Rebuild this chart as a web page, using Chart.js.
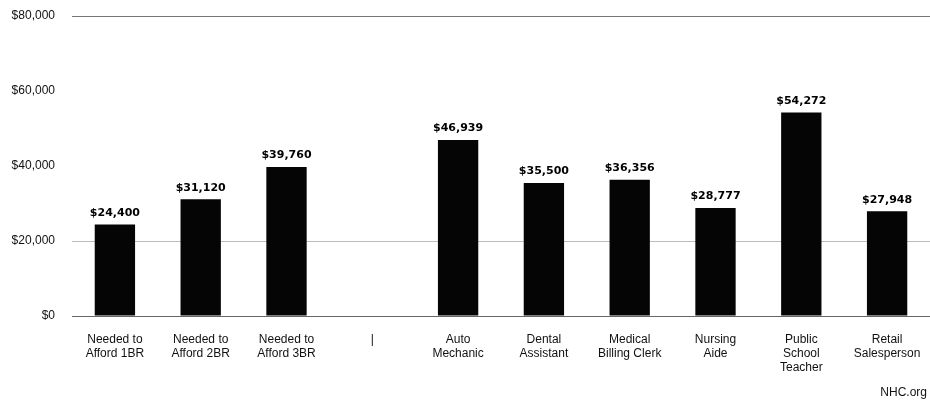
<!DOCTYPE html>
<html>
<head>
<meta charset="utf-8">
<script src="https://cdn.jsdelivr.net/npm/chart.js@4"></script>
<style>
  body { margin: 0; background: #fff; }
  #wrap { position: relative; width: 930px; height: 400px; }
  #credit {
    position: absolute; right: 3px; top: 385px;
    font: 12px "Liberation Sans", Arial, sans-serif; color: #111;
  }
</style>
</head>
<body>
<div id="wrap">
  <canvas id="myChart" width="930" height="400"></canvas>
  <div id="credit">NHC.org</div>
</div>
<script>
// categories (multi-line labels)
var categories = [
    ["Needed to", "Afford 1BR"],
    ["Needed to", "Afford 2BR"],
    ["Needed to", "Afford 3BR"],
    "|",
    ["Auto", "Mechanic"],
    ["Dental", "Assistant"],
    ["Medical", "Billing Clerk"],
    ["Nursing", "Aide"],
    ["Public", "School", "Teacher"],
    ["Retail", "Salesperson"],
];
var salaries = [24400, 31120, 39760, null, 46939, 35500, 36356, 28777, 54272, 27948];
var yTicks = [0, 20000, 40000, 60000, 80000];

function money(v) {
    return "$" + v.toLocaleString("en-US");
}

// value labels above bars
const valueLabels = {
    id: "valueLabels",
    afterDatasetsDraw(chart) {
        const ctx = chart.ctx;
        const meta = chart.getDatasetMeta(0);
        ctx.save();
        ctx.font = "bold 11px 'DejaVu Sans', sans-serif";
        ctx.fillStyle = "#000";
        ctx.textAlign = "center";
        ctx.textBaseline = "bottom";
        meta.data.forEach(function (bar, i) {
            const v = salaries[i];
            if (v == null) return;
            ctx.fillText(money(v), bar.x, bar.y - 6);
        });
        ctx.restore();
    },
};

new Chart(document.getElementById("myChart"), {
    type: "bar",
    data: {
        labels: categories,
        datasets: [
            {
                data: salaries,
                backgroundColor: "#050505",
                borderWidth: 0,
                barPercentage: 0.47,
                categoryPercentage: 1,
            },
        ],
    },
    options: {
        responsive: false,
        animation: false,
        layout: { padding: { top: 16, right: 0, left: 0, bottom: 0 } },
        plugins: { legend: { display: false }, tooltip: { enabled: false } },
        scales: {
            x: {
                grid: { display: false },
                border: { display: false },
                ticks: {
                    color: "#111",
                    font: { family: "'Liberation Sans', Arial, sans-serif", size: 12 },
                    maxRotation: 0,
                    autoSkip: false,
                    padding: 8,
                },
                afterFit: function (scale) {
                    scale.height = 84;
                },
            },
            y: {
                min: 0,
                max: 80000,
                afterBuildTicks: function (scale) {
                    scale.ticks = yTicks.map(function (v) { return { value: v }; });
                },
                grid: {
                    drawTicks: false,
                    color: function (c) {
                        if (c.tick == null) return "rgba(0,0,0,0)";
                        if (c.tick.value === 0) return "#666";
                        if (c.tick.value === 80000) return "#777";
                        if (c.tick.value === 20000) return "#bbb";
                        return "rgba(0,0,0,0)";
                    },
                },
                border: { display: false },
                ticks: {
                    color: "#111",
                    padding: 17,
                    font: { family: "'Liberation Sans', Arial, sans-serif", size: 12 },
                    callback: function (v) { return money(v); },
                },
                afterFit: function (scale) {
                    scale.width = 72;
                    scale.paddingTop = 0;
                    scale.paddingBottom = 0;
                },
            },
        },
    },
    plugins: [valueLabels],
});
</script>
</body>
</html>
